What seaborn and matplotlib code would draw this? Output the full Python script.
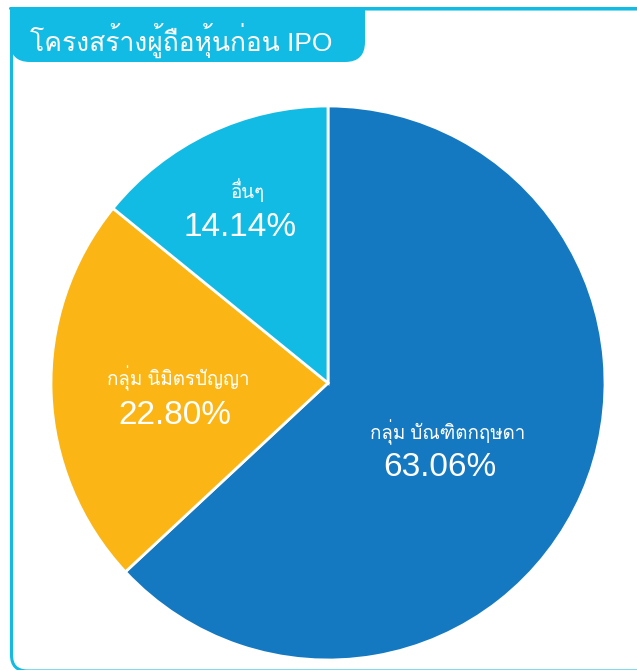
import matplotlib
matplotlib.use("Agg")
import matplotlib.pyplot as plt
import seaborn as sns
from matplotlib import font_manager, ft2font
from matplotlib.patches import FancyBboxPatch, Rectangle

sns.set_style("white")

# look for an installed family that has Thai glyphs
thai_fams = []
for f in font_manager.fontManager.ttflist:
    try:
        if 0x0E01 in ft2font.FT2Font(f.fname).get_charmap() and f.name not in thai_fams:
            thai_fams.append(f.name)
    except Exception:
        pass
plt.rcParams['font.family'] = ['Liberation Sans'] + thai_fams + ['DejaVu Sans']

# data
groups = ["กลุ่ม บัณฑิตกฤษดา", "กลุ่ม นิมิตรปัญญา", "อื่นๆ"]
shares = [63.06, 22.80, 14.14]
colors = ["#1479C0", "#FBB615", "#12BBE3"]
title = "โครงสร้างผู้ถือหุ้นก่อน IPO"

W, H = 637, 670
fig = plt.figure(figsize=(W / 100, H / 100), dpi=100)
ax = fig.add_axes([0, 0, 1, 1])

# pie
wedges, _ = ax.pie(shares, colors=colors, startangle=90, counterclock=False,
                   center=(328, H - 383), radius=277,
                   wedgeprops=dict(edgecolor="white", linewidth=2), frame=True)
ax.set_xlim(0, W)
ax.set_ylim(0, H)
ax.set_aspect("equal")
ax.axis("off")

# frame: left border + top line
frame = FancyBboxPatch((11.5, -1), 700, H - 8, boxstyle="round,pad=0,rounding_size=16",
                       fill=False, ec="#12BBE3", lw=2.2, zorder=1)
ax.add_patch(frame)
ax.plot([10, W], [H - 8, H - 8], color="#12BBE3", lw=2.2, zorder=1)

# title tab
tab = FancyBboxPatch((10, H - 62), 355, 54, boxstyle="round,pad=0,rounding_size=20",
                     fc="#12BBE3", ec="none", zorder=2)
ax.add_patch(tab)
ax.add_patch(Rectangle((10, H - 35), 355, 28, fc="#12BBE3", ec="none", zorder=2))
ax.text(30, H - 40, title, color="white", fontsize=19, ha="left", va="center", zorder=3)

label_pos = [(448, 432, 440, 468), (178, 378, 175, 415), (248, 190, 240, 228)]
for name, val, (nx, ny, vx, vy) in zip(groups, shares, label_pos):
    ax.text(nx, H - ny, name, color="white", fontsize=13.5, ha="center", va="center")
    ax.text(vx, H - vy, f"{val:.2f}%", color="white", fontsize=24, ha="center", va="center")

fig.savefig("out.png", dpi=100, facecolor="white")
